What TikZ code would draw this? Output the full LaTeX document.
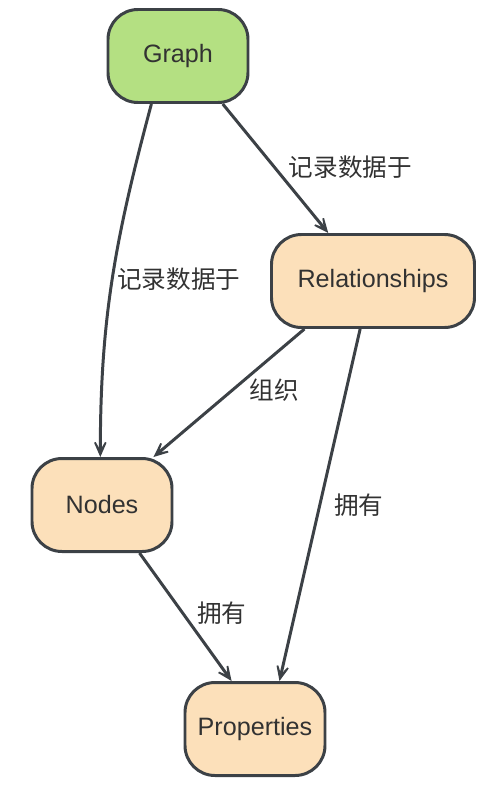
\documentclass[tikz,border=0pt]{standalone}
\usepackage{fontspec}
\setmainfont{Liberation Sans}
\newfontfamily\cjk{Noto Sans CJK SC}
\usetikzlibrary{arrows.meta}
\definecolor{graphgreen}{RGB}{180,224,130}
\definecolor{boxorange}{RGB}{252,224,186}
\definecolor{darkline}{RGB}{60,65,70}
\definecolor{darktext}{RGB}{50,50,50}
\tikzset{
    box/.style = {
        draw=darkline,
        fill=boxorange,
        shape=rectangle,
        rounded corners=0.6cm,
        minimum height=1.86cm,
        minimum width=2.8cm,
        line width=1.7pt,
        text=darktext,
        font=\fontsize{14.3}{17}\selectfont
    },
    root/.style = {
        box,
        fill=graphgreen
    },
    lbl/.style = {
        inner sep=2pt,
        anchor=west,
        text=darktext,
        font=\cjk\fontsize{14}{17}\selectfont
    },
    link/.style = {
        draw=darkline,
        line width=1.7pt,
        ->
    },
    >={Stealth[length=16pt,width=14pt,inset=12pt]},
}
\begin{document}
\begin{tikzpicture}
    \useasboundingbox (0,0) rectangle (9.6,-15.96);

    \node[root] (graph) at (3.56,-1.12) {Graph};
    \node[box, minimum width=4.06cm] (rel) at (7.46,-5.62) {Relationships};
    \node[box] (nodes) at (2.04,-10.1) {Nodes};
    \node[box] (props) at (5.1,-14.58) {Properties};

    \path[link] (graph.-119) to[out=-105,in=90]
        node[lbl, pos=0.5] {记录数据于} (nodes.92);
    \path[link] (graph.-47) --
        node[lbl, pos=0.49, xshift=0.19cm] {记录数据于} (rel.133);
    \path[link] (rel.-145) --
        node[lbl, pos=0.48, xshift=0.25cm] {组织} (nodes.43);
    \path[link] (rel.-105.5) --
        node[lbl, pos=0.5, xshift=0.19cm] {拥有} (props.63.4);
    \path[link] (nodes.-52.5) --
        node[lbl, pos=0.47, xshift=0.19cm] {拥有} (props.116.6);
\end{tikzpicture}
\end{document}
